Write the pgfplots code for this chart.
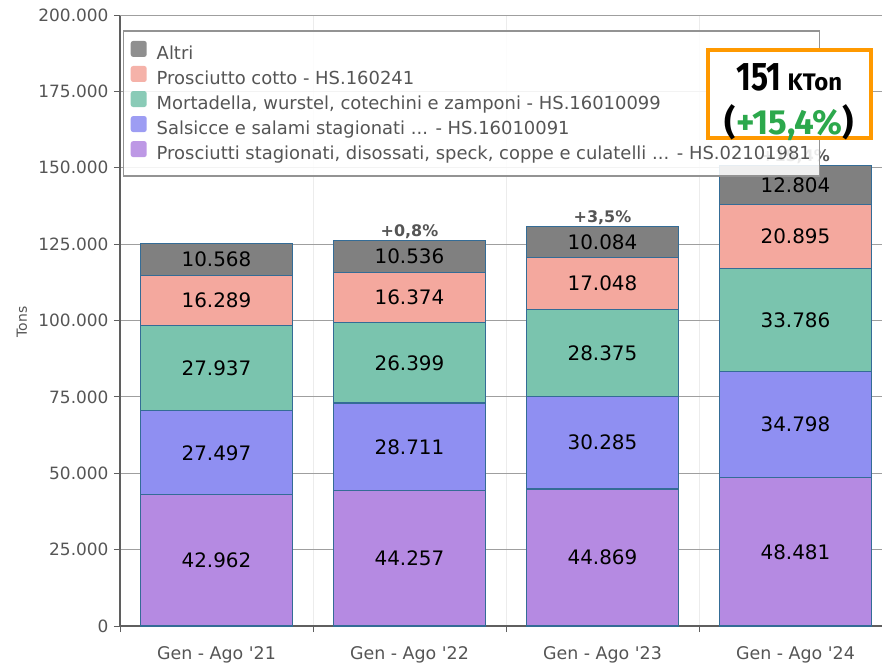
\documentclass[border=0pt]{standalone}
\usepackage{pgfplots}
\pgfplotsset{compat=1.18}
\usepackage{pgfplotstable}
\usepackage{graphicx}
\usepackage{fontspec}
\setmainfont{DejaVu Sans}
\newfontfamily\fira{Fira Sans}

\definecolor{cAltri}{RGB}{128,128,128}
\definecolor{cCotto}{RGB}{244,168,158}
\definecolor{cMorta}{RGB}{122,196,174}
\definecolor{cSals}{RGB}{143,143,242}
\definecolor{cStag}{RGB}{181,138,226}
\definecolor{barEdge}{RGB}{52,108,150}
\definecolor{axGrey}{RGB}{95,95,95}
\definecolor{txtGrey}{RGB}{85,85,85}
\definecolor{kGreen}{RGB}{44,168,76}
\definecolor{kOrange}{RGB}{255,153,0}

% tons, bottom segment first
\pgfplotstableread{
x stag sals morta cotto altri
0 42962 27497 27937 16289 10568
1 44257 28711 26399 16374 10536
2 44869 30285 28375 17048 10084
3 48481 34798 33786 20895 12804
}\tons

\newcommand\axH{611}
\pgfplotsset{
  mid label/.style={
    nodes near coords,
    every node near coord/.append style={
      anchor=center,
      font=\fontsize{20}{24}\selectfont, text=black},
  },
}
\tikzset{pct/.style={anchor=south, inner sep=1.5bp,
    font=\bfseries\fontsize{16}{18}\selectfont, text=txtGrey}}

\begin{document}
\begin{tikzpicture}
\useasboundingbox (0,0) rectangle (882bp,663bp);
\begin{axis}[
  at={(120bp,37bp)}, anchor=south west,
  scale only axis, width=772bp, height=\axH bp,
  ybar stacked, bar width=152bp,
  xmin=-0.5, xmax=3.5, ymin=0, ymax=200000,
  axis x line*=bottom, axis y line*=left,
  axis line style={axGrey, line width=2.5bp},
  tick align=outside, major tick length=6bp,
  tick style={axGrey, line width=0.8bp},
  scaled y ticks=false,
  /pgf/number format/fixed,
  /pgf/number format/1000 sep={.},
  /pgf/number format/assume math mode=true,
  ytick={0,25000,...,200000},
  ymajorgrids, y grid style={gray!75, line width=0.8bp},
  extra y ticks={200000}, extra y tick labels={},
  extra y tick style={grid=major, major tick length=0pt,
    grid style={axGrey, line width=1.8bp}},
  xtick={-0.5,0.5,1.5,2.5}, xticklabels={},
  xmajorgrids, x grid style={gray!15, line width=0.8bp},
  extra x ticks={0,1,2,3},
  extra x tick labels={Gen - Ago \textquotesingle21, Gen - Ago \textquotesingle22,
    Gen - Ago \textquotesingle23, Gen - Ago \textquotesingle24},
  extra x tick style={grid=none, major tick length=0pt},
  yticklabel style={font=\fontsize{17}{20}\selectfont, text=txtGrey, xshift=-2bp},
  xticklabel style={font=\fontsize{17.5}{20}\selectfont, text=txtGrey, yshift=-17bp},
  ylabel={Tons},
  ylabel style={at={([xshift=-98bp]axis description cs:0,0.4975)}, anchor=center,
    font=\fontsize{14}{16}\selectfont, text=txtGrey},
  reverse legend, legend cell align=left,
  legend image code/.code={\fill[#1, draw=none, rounded corners=2.5bp]
    (0bp,-2bp) rectangle (16bp,14bp);},
  legend style={at={(axis description cs:0.004,0.975)}, anchor=north west,
    draw=gray!85, line width=1.3bp, fill=white, fill opacity=0.88,
    draw opacity=1, text opacity=1, text=txtGrey,
    font=\fontsize{18}{21}\selectfont,
    inner xsep=7bp, inner ysep=10bp, row sep=0.3bp, column sep=8bp,
    nodes={inner sep=2bp, text height=13bp, text depth=4.5bp}},
]
\addplot[fill=cStag, draw=barEdge, line width=1.2bp, mid label]
  table[x=x, y=stag] {\tons};
\addlegendentry{Prosciutti stagionati, disossati, speck, coppe e culatelli ... - HS.02101981}
\addplot[fill=cSals, draw=barEdge, line width=1.2bp, mid label]
  table[x=x, y=sals] {\tons};
\addlegendentry{Salsicce e salami stagionati ... - HS.16010091}
\addplot[fill=cMorta, draw=barEdge, line width=1.2bp, mid label]
  table[x=x, y=morta] {\tons};
\addlegendentry{Mortadella, wurstel, cotechini e zamponi - HS.16010099}
\addplot[fill=cCotto, draw=barEdge, line width=1.2bp, mid label]
  table[x=x, y=cotto] {\tons};
\addlegendentry{Prosciutto cotto - HS.160241}
\addplot[fill=cAltri, draw=barEdge, line width=1.2bp, mid label]
  table[x=x, y=altri] {\tons};
\addlegendentry{Altri}
% growth vs. previous year, above each stack total
\node[pct] at (axis cs:1,126277) {+0,8\%};
\node[pct] at (axis cs:2,130661) {+3,5\%};
\node[pct] at (axis cs:3,150764) {+15,4\%};
\end{axis}
% headline box
\node[draw=kOrange, line width=3.5bp, fill=white, minimum width=163bp,
  minimum height=88bp, inner sep=0pt] at (789.5bp,569bp) {};
\node[inner sep=0pt, align=center,
  font=\fira\bfseries\fontsize{40}{44}\selectfont] at (789.5bp,561bp)
  {\scalebox{0.8}[1]{151}\hspace{6bp}{\fontsize{24}{44}\selectfont KTon}\\
   {\fontsize{35}{44}\selectfont (\textcolor{kGreen}{+15,4\%})}};
\end{tikzpicture}
\end{document}
